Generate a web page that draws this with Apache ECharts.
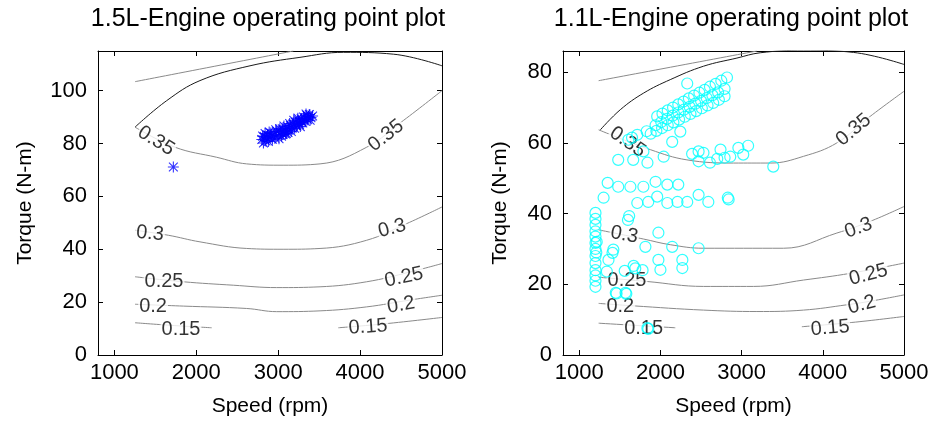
<!DOCTYPE html>
<html>
<head>
<meta charset="utf-8">
<script src="https://cdn.jsdelivr.net/npm/echarts@6/dist/echarts.min.js"></script>
<style>
  html, body { margin: 0; padding: 0; background: #fff; }
  #chart { width: 933px; height: 427px; }
</style>
</head>
<body>
<div id="chart"></div>
<script>
// tick labels
const speedTicks = [1000, 2000, 3000, 4000, 5000];
const torqueTicks15 = [0, 20, 40, 60, 80, 100];
const torqueTicks11 = [0, 20, 40, 60, 80];

// 1.5L efficiency contours, [speed, torque]
const e15Line015a = [[1252, 12.2], [1700, 11.2], [2188, 10.3]];
const e15Line015b = [[3734, 10.3], [4300, 11.8], [5000, 14.2]];
const e15Line020 = [[1252, 19.2], [1842, 18.5], [2615, 17.6], [2981, 16.4], [3511, 16.7], [4080, 18.2], [4610, 20.8], [5000, 22.6]];
const e15Line025 = [[1252, 29.6], [1842, 27.7], [2452, 26.4], [2981, 25.5], [3511, 25.8], [4080, 27.7], [4610, 31.4], [5000, 34.6]];
const e15Line030 = [[1252, 47.2], [1659, 45.3], [2045, 42.8], [2615, 40.3], [3060, 40], [3511, 40.3], [4080, 43.4], [4569, 49.7], [5000, 56]];
const e15Line035 = [[1252, 86.2], [1740, 78.6], [2249, 74.8], [2615, 72.3], [3060, 71.8], [3511, 72.3], [4080, 78.6], [4528, 88.7], [5000, 100]];
const e15LineHigh = [[1252, 86.2], [1638, 96.2], [2045, 103.8], [2656, 109.4], [3266, 112.6], [3796, 114.5], [4406, 113.8], [5000, 109.4]];
const e15LineTop = [[1252, 103.4], [3185, 115]];
// [speed, torque, text, rotation]
const e15Labels = [
  [1813, 9.8, '0.15', 0], [4097, 10.6, '0.15', 4],
  [1472, 18.2, '0.2', 0], [4500, 18.9, '0.2', 10],
  [1606, 27.7, '0.25', 0], [4536, 29.4, '0.25', 12],
  [1435, 46, '0.3', -5], [4390, 47.9, '0.3', 15],
  [1508, 81, '0.35', -32], [4317, 83, '0.35', 38]
];
// 1.5L operating points
const ops15 = [
  [1720, 71.1],
  [2800, 81.5], [2810, 82.8], [2820, 80.2], [2830, 82.6], [2840, 83.8], [2850, 81], [2860, 82.2], [2870, 83.2], [2880, 80.8],
  [2890, 84.4], [2900, 82.4], [2910, 84], [2920, 82.8], [2930, 81.6], [2950, 83.4], [2960, 82], [2970, 85.2], [2980, 84.6], [3000, 83],
  [3010, 81.8], [3020, 85.6], [3030, 84.2], [3040, 82.8], [3050, 85.6], [3060, 83.4], [3070, 86.6], [3080, 85], [3090, 83.6], [3100, 83.8], [3110, 86.4],
  [3120, 84.2], [3130, 85], [3140, 87.6], [3150, 86.8], [3160, 84.6], [3170, 85.8], [3180, 87.4], [3190, 88.8], [3200, 85.8], [3210, 88],
  [3220, 87], [3230, 86.6], [3240, 89.6], [3250, 88.6], [3260, 87.2], [3270, 86.4], [3280, 89.4], [3290, 88.2], [3300, 87.8], [3310, 90],
  [3320, 89.2], [3330, 88.4], [3340, 91.2], [3350, 90.6], [3360, 89], [3370, 90.2], [3380, 91], [3390, 88.8], [3400, 89.8], [3420, 90.4]
];

// 1.1L efficiency contours
const e11Line015a = [[1239, 9], [2183, 7.7]];
const e11Line015b = [[3742, 8], [4400, 9.3], [5000, 10.9]];
const e11Line020 = [[1239, 14.6], [1670, 13.9], [2531, 12.7], [3188, 12.3], [3762, 12.7], [4296, 14.2], [4583, 15.2], [5000, 17]];
const e11Line025 = [[1239, 22], [1834, 20.8], [2531, 19.4], [3147, 19.4], [3762, 21.2], [4337, 23.1], [5000, 26]];
const e11Line030 = [[1239, 35.4], [1793, 32.8], [2121, 31.2], [2531, 30.2], [3516, 30.2], [4173, 34.5], [4583, 37.8], [5000, 42]];
const e11Line035 = [[1239, 63.7], [1875, 58.1], [2326, 55.2], [2900, 54.3], [3352, 54.3], [3762, 56.2], [4173, 60], [4583, 67.5], [5000, 74.6]];
const e11LineHigh = [[1260, 63.7], [1506, 69.4], [1793, 74.1], [2121, 77.9], [2531, 81.7], [2942, 84], [3229, 85.5], [3762, 86.2], [4378, 85.6], [5000, 82.2]];
const e11LineTop = [[1239, 77.6], [3188, 86]];
const e11Labels = [
  [1793, 7.6, '0.15', 0], [4090, 7.6, '0.15', 5],
  [1506, 13.7, '0.2', 0], [4480, 14.2, '0.2', 15],
  [1588, 21.2, '0.25', 0], [4562, 22.7, '0.25', 15],
  [1555, 34, '0.3', -10], [4440, 35.9, '0.3', 20],
  [1596, 60.2, '0.35', -35], [4378, 63.7, '0.35', 40]
];
// 1.1L operating points
const ops11 = [
  [1200, 19.3], [1200, 21], [1200, 22.5], [1200, 24], [1200, 26], [1200, 28], [1200, 30], [1200, 31.7],
  [1200, 33.5], [1200, 35], [1200, 36.8], [1200, 38.5], [1200, 40.2], [1210, 29], [1215, 32],
  [1300, 44.5], [1350, 48.7], [1480, 47.6], [1630, 47.6], [1790, 47.6], [1940, 49], [2085, 48.2], [2220, 48.2],
  [1715, 43], [1850, 43.3], [1960, 44.8], [2085, 43], [2210, 43.3], [2330, 43.3], [2470, 45.3], [2590, 43.3],
  [2830, 44.5], [2840, 44],
  [1600, 38.2], [1615, 39.3], [1360, 26.9], [1410, 28.9], [1420, 29.8], [1340, 23.6],
  [1975, 34.6], [1815, 30.6], [2145, 30.6], [2470, 30.2],
  [1975, 26.9], [2000, 24.1], [2270, 26.9], [2270, 24.6], [1670, 25.2], [1690, 24.5], [1560, 23.8], [1780, 24],
  [1450, 17.6], [1460, 17.4], [1570, 17.6], [1580, 17.3], [1840, 7.6], [1850, 7.4],
  [1480, 55.2], [1665, 55.2], [1840, 54.4], [2040, 56.1], [1790, 57.6], [1605, 60.9], [1715, 62.3], [1650, 61.5],
  [1830, 63.3], [2145, 60.3], [2245, 63.2],
  [2390, 56.9], [2470, 57.6], [2470, 54.8], [2530, 57.2], [2610, 54.4], [2700, 55.5], [2740, 58.1], [2790, 55.8],
  [2860, 56.1], [2960, 58.6], [3020, 56.7], [3080, 59.2], [3390, 53.3],
  [2330, 76.8],
  [1960, 67.5], [2025, 68.3], [2090, 69.2], [2155, 70], [2220, 70.9], [2285, 71.7], [2350, 72.6],
  [2415, 73.4], [2480, 74.2], [2545, 75], [2610, 75.9], [2680, 76.7], [2750, 77.6], [2820, 78.5],
  [1940, 65], [2010, 65.9], [2080, 66.8], [2150, 67.7], [2220, 68.6], [2290, 69.4], [2360, 70.2],
  [2430, 71.1], [2500, 71.9], [2570, 72.7], [2640, 73.5], [2710, 74.3], [2790, 75.3],
  [1880, 62.6], [1950, 63.4], [2020, 64.2], [2090, 65], [2160, 65.8], [2230, 66.6], [2300, 67.4],
  [2370, 68.2], [2440, 69], [2510, 69.8], [2580, 70.6], [2650, 71.3], [2720, 72.2], [2790, 73.2]
];

const font = 'Liberation Sans, Arial, Helvetica, sans-serif';
const grayLine = '#8a8a8a';
const darkLine = '#1a1a1a';
const starPath = 'path://M0 9L20 9L20 11L0 11ZM9 0L11 0L11 20L9 20ZM2.7 1.3L18.7 17.3L17.3 18.7L1.3 2.7ZM17.3 1.3L18.7 2.7L2.7 18.7L1.3 17.3Z';
const plainNum = v => String(v);

function xAxes(gi) {
  const base = {
    type: 'value', gridIndex: gi, min: 800, max: 5000,
    axisLine: { show: true, onZero: false, lineStyle: { color: '#000', width: 1 } },
    splitLine: { show: false }
  };
  return [
    Object.assign({}, base, {
      position: 'bottom',
      name: 'Speed (rpm)', nameLocation: 'middle', nameGap: 41,
      nameTextStyle: { fontSize: 21, color: '#000', fontFamily: font },
      axisTick: { inside: true, length: 5, customValues: speedTicks, lineStyle: { color: '#000' } },
      axisLabel: { customValues: speedTicks, formatter: plainNum, fontSize: 22, color: '#000', fontFamily: font, margin: 7 }
    }),
    Object.assign({}, base, {
      position: 'top',
      axisTick: { inside: true, length: 5, customValues: speedTicks, lineStyle: { color: '#000' } },
      axisLabel: { show: false }
    })
  ];
}

function yAxes(gi, ymax, ticks, gap) {
  const base = {
    type: 'value', gridIndex: gi, min: 0, max: ymax,
    axisLine: { show: true, onZero: false, lineStyle: { color: '#000', width: 1 } },
    splitLine: { show: false }
  };
  return [
    Object.assign({}, base, {
      position: 'left',
      name: 'Torque (N-m)', nameLocation: 'middle', nameGap: gap,
      nameTextStyle: { fontSize: 21, color: '#000', fontFamily: font },
      axisTick: { inside: true, length: 5, customValues: ticks, lineStyle: { color: '#000' } },
      axisLabel: { customValues: ticks, formatter: plainNum, fontSize: 22, color: '#000', fontFamily: font, margin: 11 }
    }),
    Object.assign({}, base, {
      position: 'right',
      axisTick: { inside: true, length: 5, customValues: ticks, lineStyle: { color: '#000' } },
      axisLabel: { show: false }
    })
  ];
}

function contour(data, gi, color) {
  return {
    type: 'line', data: data, xAxisIndex: gi * 2, yAxisIndex: gi * 2,
    symbol: 'none', smooth: 0.4, silent: true, z: 2,
    lineStyle: { color: color, width: 1 }
  };
}

function contourLabels(list, gi) {
  return {
    type: 'scatter', xAxisIndex: gi * 2, yAxisIndex: gi * 2,
    symbolSize: 1, silent: true, z: 3,
    itemStyle: { color: 'transparent' },
    data: list.map(d => ({
      value: [d[0], d[1]],
      label: {
        show: true, position: 'inside', formatter: d[2], rotate: d[3],
        fontSize: 20, color: '#000', fontFamily: font,
        backgroundColor: '#fff', padding: [0, 1]
      }
    }))
  };
}

const chart = echarts.init(document.getElementById('chart'), null, { renderer: 'canvas' });

chart.setOption({
  animation: false,
  backgroundColor: '#fff',
  title: [
    { text: '1.5L-Engine operating point plot', left: 268, top: 7, textAlign: 'center', padding: 0,
      textStyle: { fontSize: 25, fontWeight: 'normal', color: '#000', fontFamily: font } },
    { text: '1.1L-Engine operating point plot', left: 731, top: 7, textAlign: 'center', padding: 0,
      textStyle: { fontSize: 25, fontWeight: 'normal', color: '#000', fontFamily: font } }
  ],
  grid: [
    { left: 98, top: 51, width: 344, height: 304 },
    { left: 563, top: 51, width: 341, height: 304 }
  ],
  xAxis: xAxes(0).concat(xAxes(1)),
  yAxis: yAxes(0, 115, torqueTicks15, 62).concat(yAxes(1, 86, torqueTicks11, 52)),
  series: [
    contour(e15Line015a, 0, grayLine),
    contour(e15Line015b, 0, grayLine),
    contour(e15Line020, 0, grayLine),
    contour(e15Line025, 0, grayLine),
    contour(e15Line030, 0, grayLine),
    contour(e15Line035, 0, grayLine),
    contour(e15LineHigh, 0, darkLine),
    contour(e15LineTop, 0, grayLine),
    contourLabels(e15Labels, 0),
    {
      type: 'scatter', name: '1.5L', xAxisIndex: 0, yAxisIndex: 0, z: 5,
      symbol: starPath, symbolSize: 11,
      itemStyle: { color: '#0000ff' },
      data: ops15
    },
    contour(e11Line015a, 1, grayLine),
    contour(e11Line015b, 1, grayLine),
    contour(e11Line020, 1, grayLine),
    contour(e11Line025, 1, grayLine),
    contour(e11Line030, 1, grayLine),
    contour(e11Line035, 1, grayLine),
    contour(e11LineHigh, 1, darkLine),
    contour(e11LineTop, 1, grayLine),
    contourLabels(e11Labels, 1),
    {
      type: 'scatter', name: '1.1L', xAxisIndex: 2, yAxisIndex: 2, z: 5,
      symbol: 'circle', symbolSize: 11,
      itemStyle: { color: 'transparent', borderColor: '#00ffff', borderWidth: 1.2 },
      data: ops11
    }
  ]
});
</script>
</body>
</html>
